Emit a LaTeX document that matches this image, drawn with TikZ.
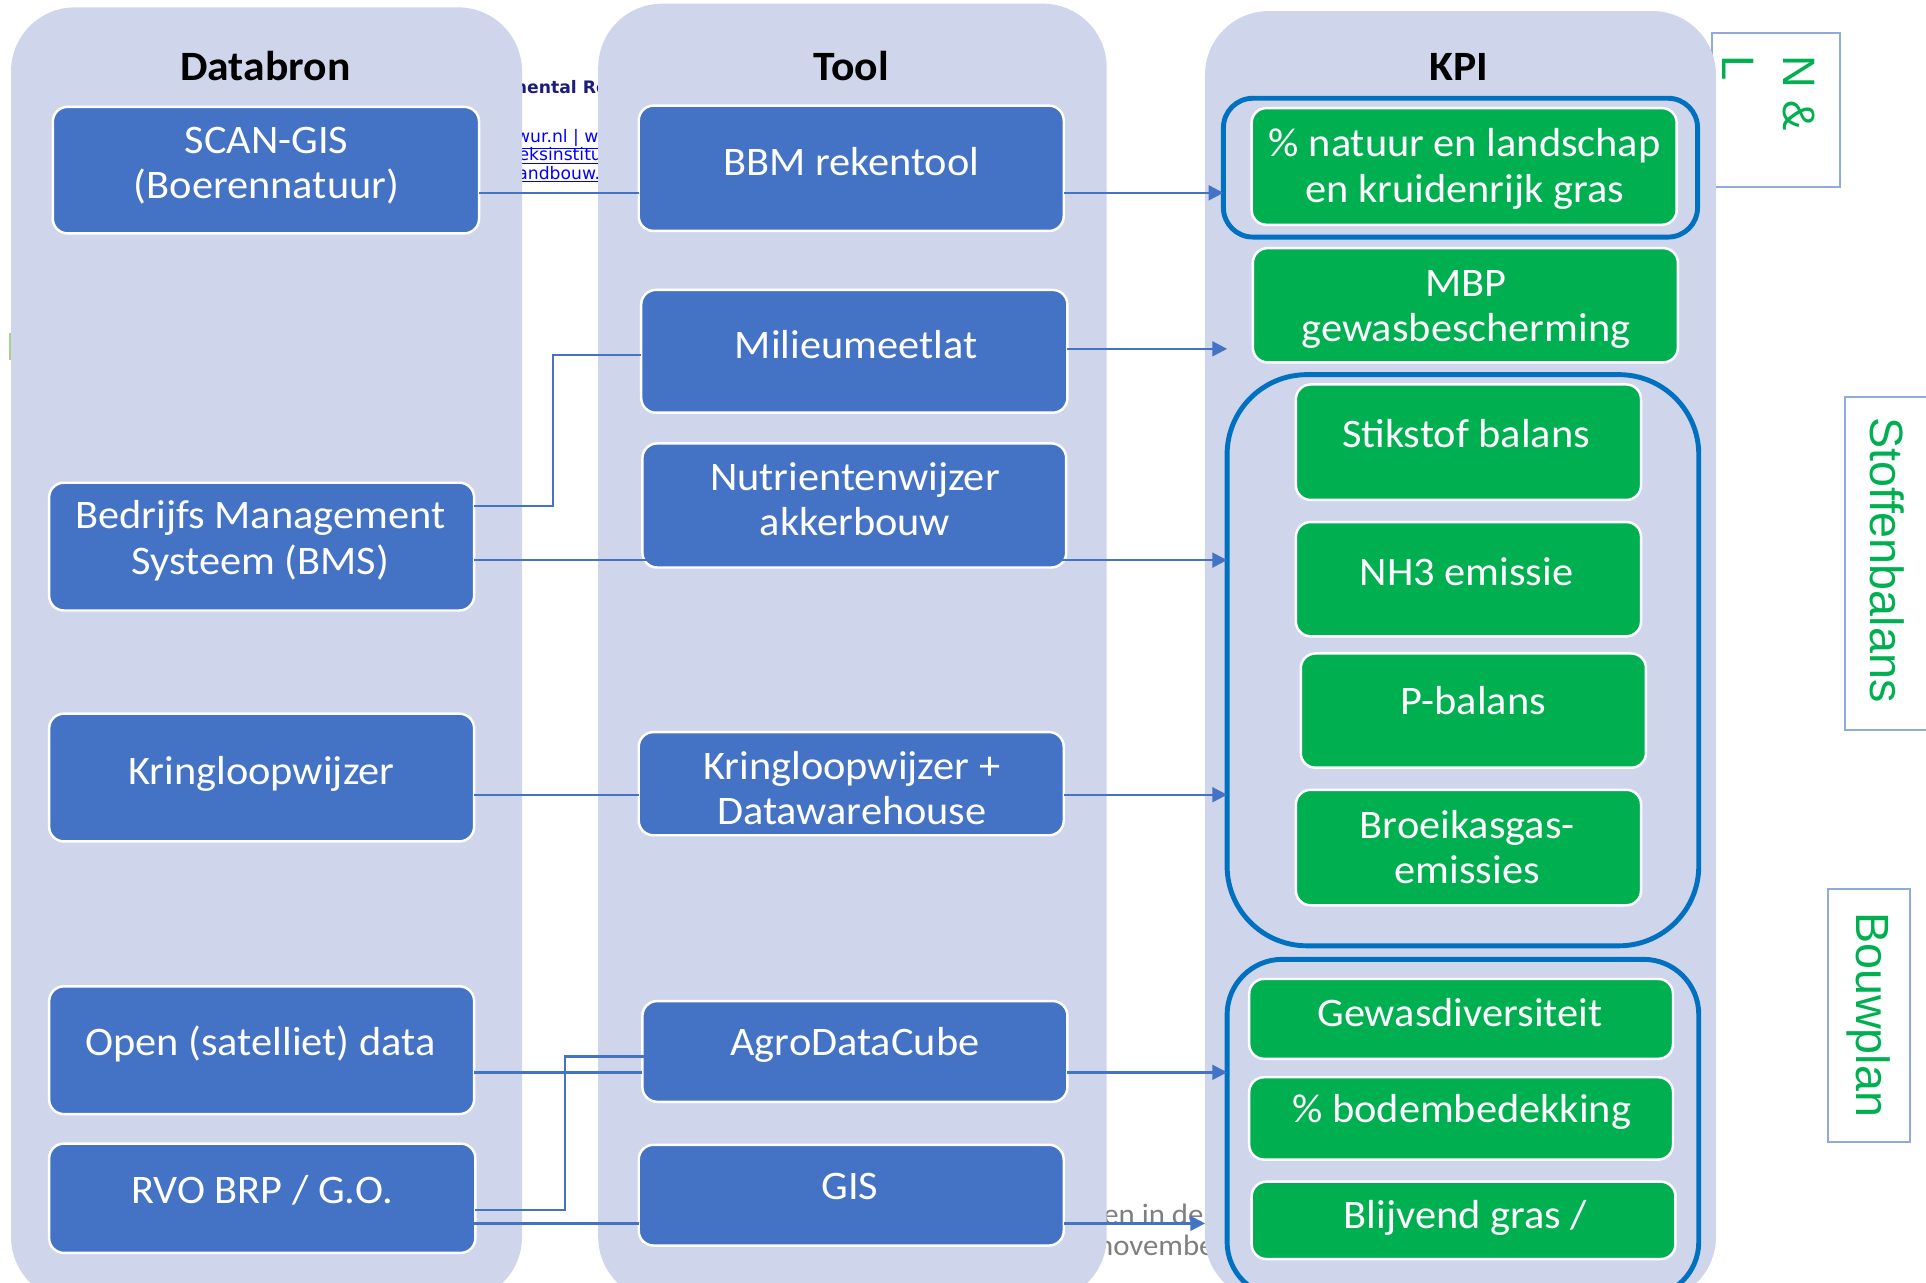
\documentclass[tikz,border=0pt]{standalone}
\usepackage{fontspec}
\setmainfont{Carlito}[FakeStretch=1.045]
\newfontfamily\arialf{Liberation Sans}
\newfontfamily\verdf{DejaVu Sans}
\usetikzlibrary{arrows.meta}
\definecolor{colbg}{HTML}{CFD5EA}
\definecolor{boxblue}{HTML}{4472C4}
\definecolor{kpigreen}{HTML}{00B050}
\definecolor{grpblue}{HTML}{0070C0}
\definecolor{lblline}{HTML}{8FAADC}
\definecolor{navytxt}{HTML}{1C1C7C}
\definecolor{linkblue}{HTML}{0000FF}
\definecolor{greytxt}{HTML}{7F7F7F}
\definecolor{artgreen}{HTML}{A9D18E}
\newcommand\st{\rule[-9pt]{0pt}{33pt}}
\begin{document}
\begin{tikzpicture}[x=1pt,y=-1pt,
  col/.style={fill=colbg, draw=none, rounded corners=52pt, inner sep=0pt, outer sep=0pt},
  bbox/.style={draw=white, line width=2pt, fill=boxblue, rounded corners=12pt, inner sep=0pt, outer sep=0pt},
  gbox/.style={bbox, fill=kpigreen},
  btxt/.style={text=white, font=\fontsize{33}{37}\selectfont, align=center, inner sep=0pt},
  head/.style={font=\fontsize{34}{40}\selectfont\bfseries, text=black, inner sep=0pt, anchor=base},
  grp/.style={draw=grpblue, line width=4pt, fill=none, inner sep=0pt, outer sep=0pt},
  lbl/.style={draw=lblline, line width=1.5pt, fill=none, inner sep=0pt, outer sep=0pt},
  ltxt/.style={text=kpigreen, font=\arialf\fontsize{38}{44}\selectfont, rotate=-90, inner sep=0pt},
  conn/.style={draw=boxblue, line width=2pt},
  arr/.style={conn, -{Triangle[length=12pt,width=12pt]}},
  link/.style={text=linkblue, font=\verdf\fontsize{14}{16}\selectfont, inner sep=0pt, anchor=base west},
  greyt/.style={text=greytxt, font=\fontsize{24}{28}\selectfont, inner sep=0pt, anchor=base west},
]
\useasboundingbox (0,0) rectangle (1568,1044);
\clip (0,0) rectangle (1568,1044);

% background fragments
\node[text=navytxt, font=\verdf\bfseries\fontsize{14}{16}\selectfont, inner sep=0pt, anchor=base west] (frag1) at (419,76.5) {nental Research};
\node[link] (frag2) at (420,116) {\underline{wur.nl | www}};
\node[link] (frag3) at (422,131) {\underline{eksinstituut}};
\node[link] (frag4) at (421,146) {\underline{andbouw.nl}};
\node[greyt] (frag5) at (898,997) {en in de};
\node[greyt] (frag6) at (893,1022) {november};
\draw[artgreen, line width=2pt] (8.5,271) -- (8.5,293);

% labels at right
\node[lbl, minimum width=104pt, minimum height=125pt] (lnl) at (1446,89.5) {};
\node[lbl, minimum width=78pt, minimum height=271pt] (lsb) at (1541,458.5) {};
\node[lbl, minimum width=67pt, minimum height=206pt] (lbp) at (1521.5,827) {};
\node[ltxt, align=left, font=\arialf\fontsize{37}{50}\selectfont] (nl-t) at (1440,76) {N \&\\L};
\node[ltxt] (sb-t) at (1536,456) {Stoffenbalans};
\node[ltxt] (bp-t) at (1521,826) {Bouwplan};

% columns
\node[col, minimum width=416pt, minimum height=1053pt] (dbcol) at (217,532.5) {};
\node[col, minimum width=414pt, minimum height=1056pt] (toolcol) at (694,531) {};
\node[col, minimum width=416pt, minimum height=1050pt] (kpicol) at (1189,534) {};

\node[head] (hd1) at (216,65.5) {Databron};
\node[head] (hd2) at (693,65.5) {Tool};
\node[head] (hd3) at (1188,65.5) {KPI};

% group outlines
\node[grp, rounded corners=24pt, minimum width=386pt, minimum height=113pt] (gnl) at (1189,136.5) {};
\node[grp, rounded corners=65pt, minimum width=384pt, minimum height=465pt] (gsb) at (1191,537.5) {};
\node[grp, rounded corners=45pt, minimum width=384pt, minimum height=275pt] (gbp) at (1191,918.5) {};

% Databron
\node[bbox, minimum width=347pt, minimum height=103pt] (scan) at (216.5,138.5) {};
\node[btxt] (scan-t) at (217,136) {\st SCAN-GIS\\(Boerennatuur)\st};
\node[bbox, minimum width=346pt, minimum height=104pt] (bms) at (213,445) {};
\node[btxt] (bms-t) at (212,441.5) {\st Bedrijfs Management\\Systeem (BMS)\st};
\node[bbox, minimum width=346pt, minimum height=104pt] (krw) at (213,633) {};
\node[btxt] (krw-t) at (213,631) {\st Kringloopwijzer};
\node[bbox, minimum width=346pt, minimum height=104pt] (open) at (213,855) {};
\node[btxt] (open-t) at (212,852) {\st Open (satelliet) data};
\node[bbox, minimum width=347pt, minimum height=89pt] (rvo) at (213.5,975.5) {};
\node[btxt] (rvo-t) at (213.5,972) {\st RVO BRP / G.O.};

% Tool
\node[bbox, minimum width=346pt, minimum height=102pt] (bbm) at (693,137) {};
\node[btxt] (bbm-t) at (693,135) {\st BBM rekentool};
\node[bbox, minimum width=347pt, minimum height=100pt] (mml) at (695.5,286) {};
\node[btxt] (mml-t) at (697,284) {\st Milieumeetlat};
\node[bbox, minimum width=345pt, minimum height=101pt] (nutr) at (695.5,411.5) {};
\node[btxt] (nutr-t) at (696,410) {\st Nutrientenwijzer\\akkerbouw\st};
\node[bbox, minimum width=346pt, minimum height=84pt] (kwdw) at (693,638) {};
\node[btxt] (kwdw-t) at (693.5,645.5) {\st Kringloopwijzer +\\Datawarehouse\st};
\node[bbox, minimum width=346pt, minimum height=82pt] (adc) at (696,856) {};
\node[btxt] (adc-t) at (696,852) {\st AgroDataCube};
\node[bbox, minimum width=346pt, minimum height=82pt] (gis) at (693,973) {};
\node[btxt] (gis-t) at (692,969) {\st GIS};

% KPI
\node[gbox, minimum width=346pt, minimum height=95pt] (nat) at (1192,135.5) {};
\node[btxt] (nat-t) at (1192.5,138.5) {\st\% natuur en landschap\\en kruidenrijk gras\st};
\node[gbox, minimum width=346pt, minimum height=93pt] (mbp) at (1193,248.5) {};
\node[btxt] (mbp-t) at (1193.5,252) {\st MBP\\gewasbescherming\st};
\node[gbox, minimum width=281pt, minimum height=94pt] (stik) at (1195.5,360) {};
\node[btxt] (stik-t) at (1193.5,357) {\st Stikstof balans};
\node[gbox, minimum width=281pt, minimum height=93pt] (nh3) at (1195.5,471.5) {};
\node[btxt] (nh3-t) at (1194,469) {\st NH3 emissie};
\node[gbox, minimum width=281pt, minimum height=93pt] (pbal) at (1199.5,578.5) {};
\node[btxt] (pbal-t) at (1199.5,574) {\st P-balans};
\node[gbox, minimum width=281pt, minimum height=94pt] (broei) at (1195.5,690) {};
\node[btxt] (broei-t) at (1194.5,693.5) {\st Broeikasgas-\\emissies\st};
\node[gbox, minimum width=345pt, minimum height=65pt] (gew) at (1189.5,829.5) {};
\node[btxt] (gew-t) at (1188.5,828) {\st Gewasdiversiteit};
\node[gbox, minimum width=345pt, minimum height=67pt] (bod) at (1189.5,910.5) {};
\node[btxt] (bod-t) at (1190,906) {\st\% bodembedekking};
\node[gbox, minimum width=345pt, minimum height=63pt] (blij) at (1191.5,993.5) {};
\node[btxt] (blij-t) at (1193,993) {\st Blijvend gras /};

% connector heights
\coordinate (h1) at (0,157);
\coordinate (h2) at (0,412);
\coordinate (h3) at (0,289);
\coordinate (h4) at (0,284);
\coordinate (h5) at (0,456);
\coordinate (h6) at (0,647);
\coordinate (h7) at (0,873);
\coordinate (h8) at (0,985);
\coordinate (h9) at (0,860);
\coordinate (h10) at (0,996);
\coordinate (xa) at (450,0);
\coordinate (xb) at (460,0);
\coordinate (xc) at (372,0);
\coordinate (xd) at (533,0);

% connectors
\draw[conn] (scan.east |- h1) -- (bbm.west |- h1);
\draw[arr] (bbm.east |- h1) -- (gnl.west |- h1);
\draw[conn] (bms.east |- h2) -- (xa |- h2) -- (xa |- h3) -- (mml.west |- h3);
\draw[arr] (mml.east |- h4) -- (gsb.west |- h4);
\draw[arr] (bms.east |- h5) -- (gsb.west |- h5);
\draw[conn] (krw.east |- h6) -- (kwdw.west |- h6);
\draw[arr] (kwdw.east |- h6) -- (gsb.west |- h6);
\draw[conn] (open.east |- h7) -- (adc.west |- h7);
\draw[conn] (rvo.east |- h8) -- (xb |- h8) -- (xb |- h9) -- (xd |- h9);
\draw[arr] (adc.east |- h7) -- (gbp.west |- h7);
\draw[conn] (xc |- h10) -- (gis.west |- h10);
\draw[arr] (gis.east |- h10) -- (kpicol.west |- h10);
\end{tikzpicture}
\end{document}
